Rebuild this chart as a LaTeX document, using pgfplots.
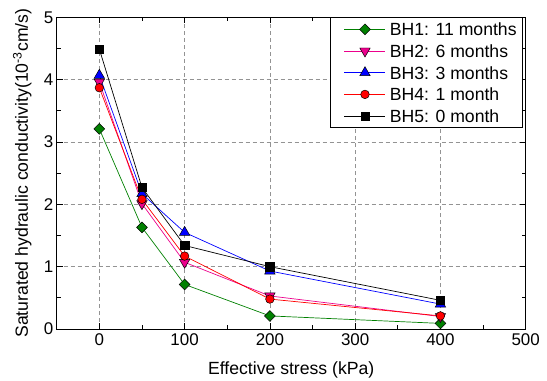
\documentclass[border=0pt]{standalone}
\usepackage{pgfplots}
\pgfplotsset{compat=1.18}
\usetikzlibrary{calc}
\usepackage{fontspec}
\setmainfont{Liberation Sans}
\definecolor{cgreen}{RGB}{0,128,0}
\begin{document}
\begin{tikzpicture}
\begin{axis}[
  name=ax,
  scale only axis,
  width=469bp, height=311.7bp,
  xmin=-50, xmax=500, ymin=0, ymax=5,
  xtick={0,100,200,300,400,500},
  ytick={0,1,2,3,4,5},
  minor x tick num=1, minor y tick num=1,
  tick align=inside,
  tick pos=both,
  major tick length=6bp, minor tick length=4bp,
  grid=major,
  major grid style={dash pattern=on 4bp off 3bp, gray!85, line width=0.6pt},
  axis line style={line width=0.9pt},
  every tick/.style={black, line width=0.7pt},
  /pgf/number format/assume math mode=true,
  tick label style={font=\fontsize{17}{19}\selectfont},
  xticklabel style={yshift=-1bp},
  label style={font=\fontsize{17.7}{20}\selectfont},
  xlabel={Effective stress (kPa)},
  ylabel={Saturated hydraulic conductivity(10\textsuperscript{-3}cm/s)},
  xlabel style={at={(axis description cs:0.5,-0.1444)}, anchor=base},
  ylabel style={at={(axis description cs:-0.0612,0.5)}, anchor=base},
  legend style={at={(rel axis cs:1,1)}, anchor=north east, xshift=-2.7bp,
    draw=black, line width=0.8pt,
    font=\fontsize{17.7}{20}\selectfont,
    inner xsep=6bp, inner ysep=0.75bp, row sep=0pt, column sep=4bp,
    nodes={inner sep=0pt, text height=17.15bp, text depth=4.55bp},
    legend cell align=left},
  legend image code/.code={
    \path[draw=none, fill=none] (-8bp,-6bp) rectangle (-8bp,6bp);
    \draw[#1, line width=0.7pt] (0bp,0bp) -- (41bp,0bp);
    \draw[#1, mark repeat=2, mark phase=2] plot coordinates {(0bp,0bp) (20.5bp,0bp) (41bp,0bp)};},
]
\addplot[cgreen, line width=0.7pt, mark=diamond*, mark size=5.4bp, mark options={xscale=1.3333, fill=cgreen, draw=black, line width=0.5pt, solid}]
 coordinates {(0,3.21) (50,1.63) (100,0.715) (200,0.21) (400,0.09)};
\addlegendentry{BH1: 11 months}
\addplot[magenta, line width=0.7pt, mark=triangle*, mark size=6bp, mark options={fill=magenta, draw=black, line width=0.5pt, rotate=180, solid}]
 coordinates {(0,3.96) (50,2.01) (100,1.07) (200,0.53) (400,0.2)};
\addlegendentry{BH2: 6 months}
\addplot[blue, line width=0.7pt, mark=triangle*, mark size=6bp, mark options={fill=blue, draw=black, line width=0.5pt, solid}]
 coordinates {(0,4.07) (50,2.17) (100,1.55) (200,0.93) (400,0.4)};
\addlegendentry{BH3: 3 months}
\addplot[red, line width=0.7pt, mark=*, mark size=4.3bp, mark options={fill=red, draw=black, line width=0.5pt, solid}]
 coordinates {(0,3.87) (50,2.08) (100,1.17) (200,0.48) (400,0.21)};
\addlegendentry{BH4: 1 month}
\addplot[black, line width=0.7pt, mark=square*, mark size=4.2bp, mark options={fill=black, draw=black, line width=0.5pt, solid}]
 coordinates {(0,4.49) (50,2.27) (100,1.34) (200,1.0) (400,0.46)};
\addlegendentry{BH5: 0 month}
\end{axis}
\pgfresetboundingbox
\path ($(ax.south west)+(-56.7bp,-51bp)$) rectangle ($(ax.north east)+(21.3bp,17.3bp)$);
\end{tikzpicture}
\end{document}
